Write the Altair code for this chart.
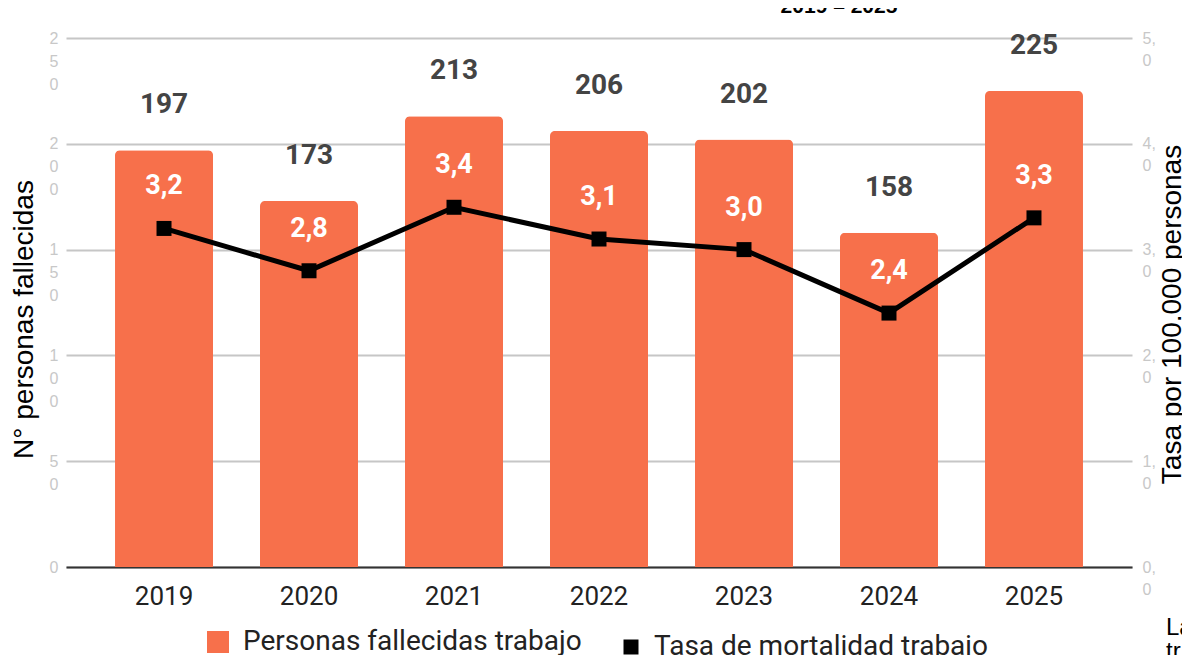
import altair as alt
import pandas as pd

years = ["2019", "2020", "2021", "2022", "2023", "2024", "2025"]
personas = [197, 173, 213, 206, 202, 158, 225]
tasa = [3.2, 2.8, 3.4, 3.1, 3.0, 2.4, 3.3]
tasa_labels = ["3,2", "2,8", "3,4", "3,1", "3,0", "2,4", "3,3"]
left_ticks = [0, 50, 100, 150, 200, 250]
right_ticks = [0, 1, 2, 3, 4, 5]
bar_series = "Personas fallecidas trabajo"
line_series = "Tasa de mortalidad trabajo"
left_title = "N° personas fallecidas"
right_title = "Tasa por 100.000 personas"
title_text = "2019 – 2025"
note_lines = ["La", "tr"]

ORANGE = "#F7704B"

df = pd.DataFrame({
    "year": years,
    "personas": personas,
    "tasa": tasa,
    "tasa_label": tasa_labels,
    "bar_series": [bar_series] * len(years),
    "line_series": [line_series] * len(years),
})

x_enc = alt.X(
    "year:N", sort=years,
    scale=alt.Scale(paddingInner=0.324, paddingOuter=0.338),
    axis=alt.Axis(title=None, labelFont="Roboto", labelFontSize=26, labelColor="#222222",
                  labelAngle=0, ticks=False, labelPadding=29, labelBaseline="middle",
                  domainColor="#333333", domainWidth=2, grid=False),
)

y_left = alt.Y(
    "personas:Q",
    scale=alt.Scale(domain=[0, 250], nice=False),
    axis=alt.Axis(title=left_title, values=left_ticks,
                  labelExpr="split(datum.label, '')", labelLineHeight=23,
                  labelFont="Liberation Sans", labelFontSize=16, labelColor="#c8c8c8",
                  ticks=False, domain=False, labelPadding=8,
                  grid=True, gridColor="#c6c6c6", gridWidth=2,
                  titleFont="Liberation Sans", titleFontSize=28, titleFontWeight="normal",
                  titleColor="#000000", titleAngle=270, titleX=-42, titleY=281,
                  titleAlign="center", titleBaseline="middle"),
)

right_expr = ("[slice(replace(format(datum.value, '.1f'), '.', ','), 0, 2), "
              "slice(replace(format(datum.value, '.1f'), '.', ','), 2)]")

y_right = alt.Y(
    "tasa:Q",
    scale=alt.Scale(domain=[0, 5], nice=False),
    axis=alt.Axis(title=right_title, orient="right", values=right_ticks,
                  labelExpr=right_expr, labelLineHeight=22,
                  labelFont="Liberation Sans", labelFontSize=16, labelColor="#c8c8c8",
                  ticks=False, domain=False, labelPadding=10, grid=False,
                  titleFont="Liberation Sans", titleFontSize=28, titleFontWeight="normal",
                  titleColor="#000000", titleAngle=270, titleX=48, titleY=276,
                  titleAlign="center", titleBaseline="alphabetic"),
)

base = alt.Chart(df)

bars = base.mark_bar(cornerRadiusTopLeft=5, cornerRadiusTopRight=5).encode(
    x=x_enc, y=y_left,
    color=alt.Color("bar_series:N", scale=alt.Scale(domain=[bar_series], range=[ORANGE]),
                    legend=alt.Legend(orient="none", legendX=138, legendY=590, title=None,
                                      symbolType="square", symbolSize=484, symbolStrokeWidth=0,
                                      labelFont="Roboto", labelFontSize=28, labelColor="#222222",
                                      labelOffset=11, labelLimit=0, padding=0,
                                      direction="horizontal")),
)

count_labels = base.mark_text(font="Roboto", fontSize=28, fontWeight="bold", color="#444444",
                              dy=-45, baseline="middle").encode(
    x=x_enc, y=y_left, text="personas:Q")

bar_group = alt.layer(bars, count_labels)

line = base.mark_line(color="black", strokeWidth=5).encode(x=x_enc, y=y_right)

points = base.mark_point(shape="square", filled=True, size=225, opacity=1).encode(
    x=x_enc, y=y_right,
    color=alt.Color("line_series:N", scale=alt.Scale(domain=[line_series], range=["#000000"]),
                    legend=alt.Legend(orient="none", legendX=551, legendY=595, title=None,
                                      symbolType="square", symbolSize=225, symbolStrokeWidth=0,
                                      labelFont="Roboto", labelFontSize=28, labelColor="#222222",
                                      labelOffset=9, labelLimit=0, padding=0,
                                      direction="horizontal")),
)

rate_labels = base.mark_text(font="Roboto", fontSize=27, fontWeight="bold", color="white",
                             dy=-42, baseline="middle").encode(
    x=x_enc, y=y_right, text="tasa_label:N")

rate_group = alt.layer(line, points, rate_labels)

title_layer = alt.Chart(pd.DataFrame({"t": [title_text]})).mark_text(
    font="Liberation Sans", fontSize=21, fontWeight="bold", color="black",
    align="center", baseline="alphabetic").encode(
    text="t:N", x=alt.value(773), y=alt.value(-25))

note_layer = alt.Chart(pd.DataFrame({"t": ["\n".join(note_lines)]})).mark_text(
    font="Liberation Sans", fontSize=24, color="black", align="left",
    baseline="alphabetic", lineBreak="\n", lineHeight=24).encode(
    text="t:N", x=alt.value(1100), y=alt.value(597))

chart = alt.layer(bar_group, rate_group, title_layer, note_layer).resolve_scale(
    y="independent", color="independent"
).properties(
    width=1066, height=529,
    autosize=alt.AutoSizeParams(type="none"),
    padding={"left": 58, "top": 30, "right": 50, "bottom": 101},
).configure_view(stroke=None)

chart.save("out.html", embed_options={"renderer": "svg", "actions": False})
